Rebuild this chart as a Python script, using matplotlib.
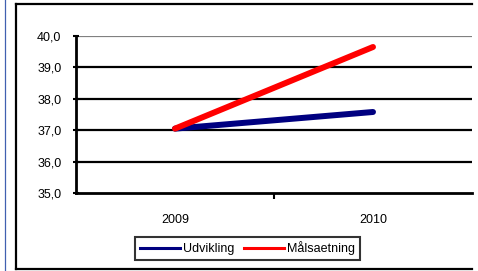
import matplotlib
matplotlib.use("Agg")
import matplotlib.pyplot as plt
from matplotlib.lines import Line2D
from matplotlib.ticker import FuncFormatter

years = ["2009", "2010"]
udvikling = [37.05, 37.58]
malsaetning = [37.05, 39.65]
series_names = ["Udvikling", "Målsaetning"]
colors = ["#000080", "#FF0000"]
yticks = [35.0, 36.0, 37.0, 38.0, 39.0, 40.0]

plt.rcParams['font.family'] = ['Liberation Sans', 'DejaVu Sans']

W, H = 478, 271
fig = plt.figure(figsize=(W / 100, H / 100), dpi=100)

def fx(px):
    return px / W

def fy(py):
    return 1 - py / H

# outer frame (open on the right)
for xs, ys in [([16, 472], [4, 4]), ([16, 16], [4, 269]), ([16, 472], [269, 269])]:
    fig.lines.append(Line2D([fx(v) for v in xs], [fy(v) for v in ys],
                            transform=fig.transFigure, color='black', linewidth=1.6,
                            solid_capstyle='projecting'))
fig.lines.append(Line2D([fx(4.5), fx(4.5)], [0, 1], transform=fig.transFigure,
                        color='#4060b0', linewidth=0.9))

ax = fig.add_axes([fx(76), fy(193), fx(472) - fx(76), fy(36) - fy(193)])
x = list(range(len(years)))
ax.plot(x, udvikling, color=colors[0], linewidth=4.3, solid_capstyle='round', zorder=3)
ax.plot(x, malsaetning, color=colors[1], linewidth=4.3, solid_capstyle='round', zorder=4)

ax.set_xlim(-0.5, 1.5)
ax.set_ylim(35, 40)
ax.set_yticks(yticks)
ax.yaxis.set_major_formatter(FuncFormatter(lambda v, p: f"{v:.1f}".replace('.', ',')))
for v in yticks[1:-1]:
    ax.axhline(v, color='black', linewidth=1.6, zorder=1)
ax.axhline(40, color='#808080', linewidth=1.6, zorder=1)

ax.set_xticks([0.5])
ax.set_xticklabels([])
ax.set_xticks(x, minor=True)
ax.set_xticklabels(years, minor=True)
ax.tick_params(axis='x', which='major', direction='out', length=4, width=1.5)
ax.tick_params(axis='x', which='minor', length=0, pad=15, labelsize=9)
ax.tick_params(axis='y', direction='inout', length=5, width=1.5, pad=8, labelsize=9)

for s in ['top', 'right']:
    ax.spines[s].set_visible(False)
ax.spines['left'].set_linewidth(2)
ax.spines['bottom'].set_linewidth(2)

handles = [Line2D([], [], color=c, linewidth=2.2) for c in colors]
leg = fig.legend(handles, series_names, loc='center',
                 bbox_to_anchor=(fx(247.5), fy(248.5)), ncol=2, fontsize=9,
                 frameon=True, fancybox=False, handlelength=3.2, handletextpad=0.3,
                 columnspacing=0.7, borderpad=0.35, borderaxespad=0)
leg.get_frame().set_edgecolor('black')
leg.get_frame().set_linewidth(1.5)

fig.savefig("out.png", dpi=100)
